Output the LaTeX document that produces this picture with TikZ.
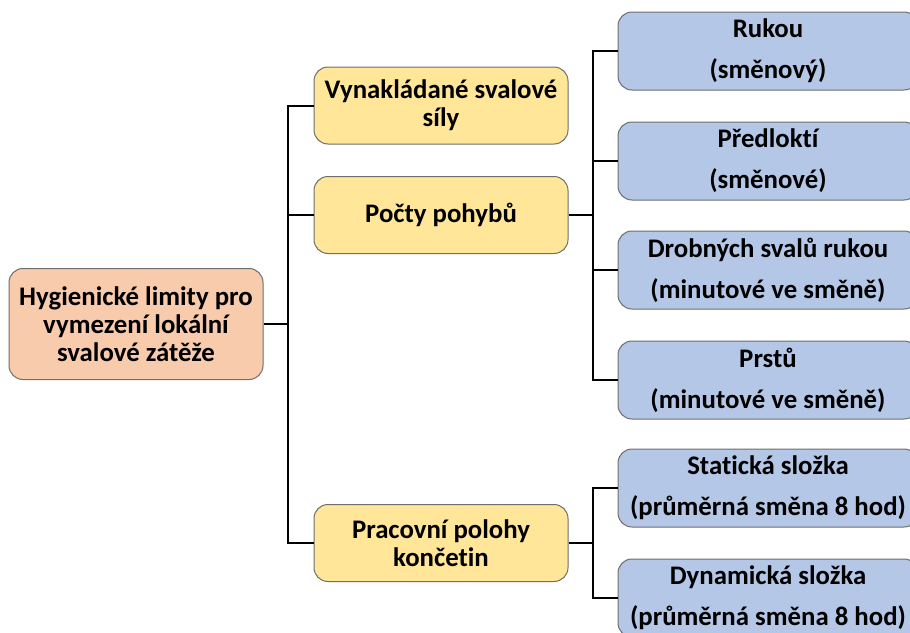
\documentclass[tikz,border=0pt]{standalone}
\usepackage{fontspec}
\setmainfont[Ligatures=NoCommon]{Carlito}
\definecolor{rootfill}{HTML}{F8CBAD}
\definecolor{midfill}{HTML}{FFE699}
\definecolor{leaffill}{HTML}{B4C7E7}
\definecolor{boxline}{HTML}{6E6E6E}
\tikzset{
  box/.style={draw=boxline, line width=1pt, rounded corners=14pt, align=center,
    inner sep=2pt, font=\bfseries\fontsize{26.8}{28}\selectfont},
  rootbox/.style={box, fill=rootfill, minimum width=254pt, minimum height=111pt},
  midbox/.style={box, fill=midfill, minimum width=254pt, minimum height=77pt},
  leafbox/.style={box, fill=leaffill, minimum width=300pt, minimum height=78pt,
    font=\bfseries\fontsize{26.8}{41}\selectfont},
  link/.style={draw=black, line width=2pt}
}
\begin{document}
\begin{tikzpicture}[x=1pt,y=-1pt]
\useasboundingbox (0,0) rectangle (910,632);

% root
\node[rootbox] (root) at (136,324) {Hygienické limity pro\\vymezení lokální\\svalové zátěže};

% second level
\node[midbox] (sily)   at (441,105.5) {Vynakládané svalové\\síly};
\node[midbox] (pocty)  at (441,215)   {Počty pohybů};
\node[midbox] (polohy) at (441,543)   {Pracovní polohy\\končetin};

% third level
\node[leafbox] (rukou)  at (768,51)  {Rukou\\(směnový)};
\node[leafbox] (predl)  at (768,161) {Předloktí\\(směnové)};
\node[leafbox] (drobne) at (768,270) {Drobných svalů rukou\\(minutové ve směně)};
\node[leafbox] (prsty)  at (768,380) {Prstů\\(minutové ve směně)};
\node[leafbox] (stat)   at (768,488) {Statická složka\\(průměrná směna 8 hod)};
\node[leafbox] (dyn)    at (768,598) {Dynamická složka\\(průměrná směna 8 hod)};

% junction points of the elbow connectors
\coordinate (j0) at (288,324);
\coordinate (j1) at (593,215);
\coordinate (j2) at (593,543);

\draw[link] (root.east) -- (j0);
\draw[link] (sily.west) -| (j0);
\draw[link] (pocty.west) -| (j0);
\draw[link] (polohy.west) -| (j0);

\draw[link] (pocty.east) -- (j1);
\draw[link] (rukou.west) -| (j1);
\draw[link] (predl.west) -| (j1);
\draw[link] (drobne.west) -| (j1);
\draw[link] (prsty.west) -| (j1);

\draw[link] (polohy.east) -- (j2);
\draw[link] (stat.west) -| (j2);
\draw[link] (dyn.west) -| (j2);
\end{tikzpicture}
\end{document}
